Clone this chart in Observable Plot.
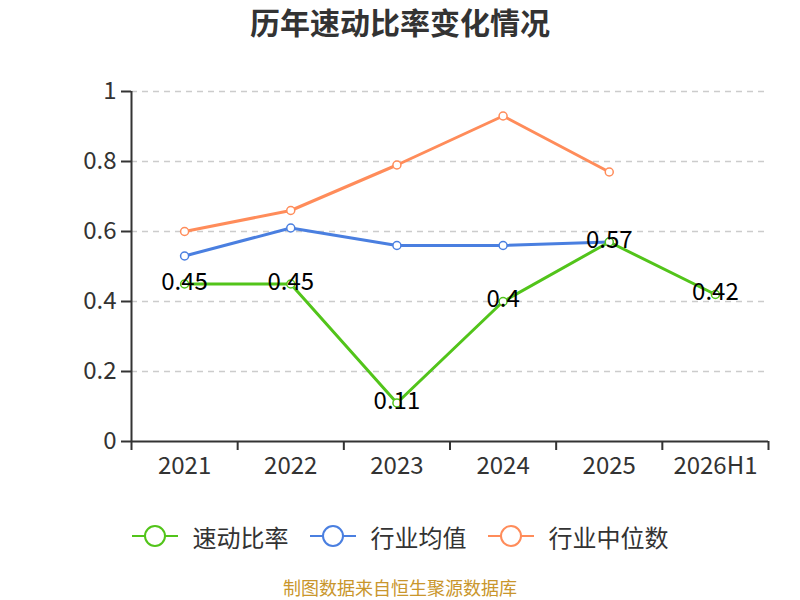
<!DOCTYPE html>
<html><head><meta charset="utf-8">
<script src="https://cdn.jsdelivr.net/npm/d3@7"></script>
<script src="https://cdn.jsdelivr.net/npm/@observablehq/plot@0.6"></script>
<style>
body{margin:0;width:800px;height:600px;background:#fff;font-family:"Noto Sans CJK SC","Noto Sans",sans-serif;overflow:hidden;position:relative}
#title{height:50px;line-height:42px;text-align:center;font-size:30px;font-weight:bold;color:#333}
#chart{height:450px}
#legend{height:72px;display:flex;justify-content:center;align-items:center;gap:21px;font-size:24px;color:#333}
.item{display:flex;align-items:center;gap:15px}
.item svg{display:block}
#caption{position:absolute;left:0;right:0;top:576px;text-align:center;font-size:18px;color:#c9962c;line-height:22px}
</style></head>
<body>
<div id="title">历年速动比率变化情况</div>
<div id="chart"></div>
<div id="legend"></div>
<div id="caption">制图数据来自恒生聚源数据库</div>
<script>
const categories = ["2021","2022","2023","2024","2025","2026H1"];
const quickRatio = [0.45,0.45,0.11,0.4,0.57,0.42];
const industryMean = [0.53,0.61,0.56,0.56,0.57,null];
const industryMedian = [0.60,0.66,0.79,0.93,0.77,null];
const yTicks = [0,0.2,0.4,0.6,0.8,1];
const seriesNames = ["速动比率","行业均值","行业中位数"];
const colors = ["#52c41a","#4a7fe0","#ff8c5a"];

const rows = (vals, s) => vals.map((v,i)=>({i, v, s})).filter(d=>d.v!=null);
const green = rows(quickRatio, seriesNames[0]);
const blue = rows(industryMean, seriesNames[1]);
const orange = rows(industryMedian, seriesNames[2]);
const idx = categories.map((c,i)=>i);
const bounds = [...idx.map(i=>i-0.5), categories.length-0.5];
const x0 = -0.5;

const chart = Plot.plot({
  width: 800, height: 450,
  marginLeft: 131, marginRight: 32, marginTop: 41, marginBottom: 59,
  x: {type: "linear", domain: [x0, categories.length-0.5], axis: null},
  y: {type: "linear", domain: [0,1], axis: null},
  style: {fontFamily: '"Noto Sans CJK SC","Noto Sans",sans-serif', color: "#333"},
  marks: [
    Plot.ruleY(yTicks.filter(t=>t>0), {stroke:"#ccc", strokeWidth:1.5, strokeDasharray:"6,5"}),
    Plot.axisY({ticks: yTicks, tickSize: 10, stroke:"#333", strokeWidth: 2, label: null, text: null}),
    Plot.text(yTicks, {x: x0, y: d=>d, text: d=>String(d), textAnchor: "end", dx: -15, fontSize: 24, fill: "#333"}),
    Plot.ruleX([x0], {stroke:"#333", strokeWidth:2}),
    Plot.ruleY([0], {stroke:"#333", strokeWidth:2}),
    Plot.axisX({ticks: bounds, tickSize: 9, strokeWidth: 2, label: null, text: null, stroke:"#333"}),
    Plot.text(idx, {x: d=>d, y: 0, text: i=>categories[i], dy: 25, fontSize: 24, fill: "#333"}),
    Plot.line(orange, {x:"i", y:"v", stroke: colors[2], strokeWidth: 3}),
    Plot.line(blue, {x:"i", y:"v", stroke: colors[1], strokeWidth: 3}),
    Plot.line(green, {x:"i", y:"v", stroke: colors[0], strokeWidth: 3}),
    Plot.dot(orange, {x:"i", y:"v", r:4, fill:"#fff", stroke: colors[2], strokeWidth:1.5}),
    Plot.dot(blue, {x:"i", y:"v", r:4, fill:"#fff", stroke: colors[1], strokeWidth:1.5}),
    Plot.dot(green, {x:"i", y:"v", r:4, fill:"#fff", stroke: colors[0], strokeWidth:1.5}),
    Plot.text(green, {x:"i", y:"v", text: d=>String(d.v), fill:"#000", fontSize:24, dy:-2})
  ]
});
document.getElementById("chart").appendChild(chart);

const legend = document.getElementById("legend");
seriesNames.forEach((n,k)=>{
  const it = document.createElement("div"); it.className="item";
  it.innerHTML = `<svg width="46" height="24"><line x1="0" y1="12" x2="46" y2="12" stroke="${colors[k]}" stroke-width="2"/><circle cx="23" cy="12" r="10" fill="#fff" stroke="${colors[k]}" stroke-width="2"/></svg><span>${n}</span>`;
  legend.appendChild(it);
});
</script>
</body></html>
